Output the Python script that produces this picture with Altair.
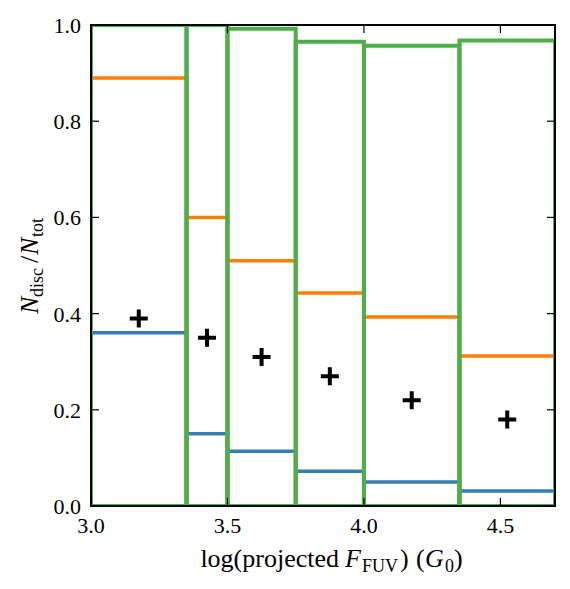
import altair as alt
import pandas as pd

# Histogram bins in log(projected F_FUV)
bin_edges = [3.0, 3.35, 3.5, 3.75, 4.0, 4.35, 4.7]
# Fraction of discs per bin for the three populations
frac_blue = [0.36, 0.15, 0.114, 0.072, 0.05, 0.031]
frac_orange = [0.89, 0.60, 0.51, 0.443, 0.393, 0.312]
frac_green = [1.0, 1.0, 0.992, 0.965, 0.957, 0.968]
# Mean fraction at each bin centre
cross_x = [3.175, 3.425, 3.625, 3.875, 4.175, 4.525]
cross_y = [0.39, 0.35, 0.31, 0.27, 0.22, 0.18]

x_ticks = [3.0, 3.5, 4.0, 4.5]
y_ticks = [0.0, 0.2, 0.4, 0.6, 0.8, 1.0]

W, H = 464, 481
FONT = "Liberation Serif"
BLUE, ORANGE, GREEN = "#377eb8", "#ff7f00", "#4daf4a"

xs = alt.Scale(domain=[3.0, 4.7], nice=False, zero=False)
ys = alt.Scale(domain=[0.0, 1.0], nice=False)


def X(field):
    return alt.X(field, scale=xs, axis=None)


def Y(field):
    return alt.Y(field, scale=ys, axis=None)


def bars(vals, color, width):
    """Unfilled histogram bars: one outlined rectangle per bin."""
    df = pd.DataFrame({"lo": bin_edges[:-1], "hi": bin_edges[1:], "v": vals,
                       "zero": [0.0] * len(vals)})
    return alt.Chart(df).mark_rect(
        filled=False, stroke=color, strokeWidth=width, clip=True
    ).encode(x=X("lo:Q"), x2="hi:Q", y=Y("zero:Q"), y2="v:Q")


blue = bars(frac_blue, BLUE, 3.5)
orange = bars(frac_orange, ORANGE, 3.5)
green = bars(frac_green, GREEN, 4)

crosses = alt.Chart(pd.DataFrame({"x": cross_x, "y": cross_y})).mark_point(
    shape="M-1,0L1,0M0,-1L0,1", size=324, filled=False, color="black",
    strokeWidth=4, opacity=1
).encode(x=X("x:Q"), y=Y("y:Q"))

# Inward ticks on all four sides, plus their labels
xt = pd.DataFrame({"t": x_ticks})
yt = pd.DataFrame({"t": y_ticks})
tick_style = dict(color="black", strokeWidth=1.2)
ticks = [
    alt.Chart(xt).mark_rule(**tick_style).encode(
        x=X("t:Q"), y=alt.value(H), y2=alt.value(H - 8)),
    alt.Chart(xt).mark_rule(**tick_style).encode(
        x=X("t:Q"), y=alt.value(0), y2=alt.value(8)),
    alt.Chart(yt).mark_rule(**tick_style).encode(
        y=Y("t:Q"), x=alt.value(0), x2=alt.value(8)),
    alt.Chart(yt).mark_rule(**tick_style).encode(
        y=Y("t:Q"), x=alt.value(W - 8), x2=alt.value(W)),
]
tick_labels = [
    alt.Chart(xt).mark_text(font=FONT, fontSize=22, color="black", align="center",
                            baseline="alphabetic").encode(
        x=X("t:Q"), y=alt.value(H + 27), text=alt.Text("t:Q", format=".1f")),
    alt.Chart(yt).mark_text(font=FONT, fontSize=22, color="black", align="right",
                            baseline="middle", dy=1).encode(
        y=Y("t:Q"), x=alt.value(-10), text=alt.Text("t:Q", format=".1f")),
]

one = pd.DataFrame({"k": [0]})

frame = alt.Chart(one).mark_rect(
    filled=False, stroke="black", strokeWidth=2
).encode(x=alt.value(0), x2=alt.value(W), y=alt.value(0), y2=alt.value(H))


def piece(text, x, y, size=26, italic=False, angle=0, align="left"):
    return alt.Chart(one).mark_text(
        text=text, font=FONT, fontSize=size, fontStyle="italic" if italic else "normal",
        align=align, baseline="alphabetic", angle=angle, color="black"
    ).encode(x=alt.value(x), y=alt.value(y))


OX, OY = 91, 25  # plot origin on the page
SUB = 18
# x-axis title: log(projected F_FUV) (G_0)
xb = 567 - OY
x_title = [
    piece("log(projected", 339 - OX, xb, align="right"),
    piece("F", 345 - OX, xb, italic=True),
    piece("FUV", 362 - OX, xb + 5, size=SUB),
    piece(")", 400 - OX, xb),
    piece("(", 416 - OX, xb),
    piece("G", 425 - OX, xb, italic=True),
    piece("0", 445 - OX, xb + 5, size=SUB),
    piece(")", 454 - OX, xb),
]
# y-axis title: N_disc / N_tot (rotated)
yb = 38 - OX
y_title = [
    piece("N", yb, 314 - OY, italic=True, angle=270),
    piece("disc", yb + 5, 297 - OY, size=SUB, angle=270),
    piece("/", yb, 263 - OY, angle=270),
    piece("N", yb, 255 - OY, italic=True, angle=270),
    piece("tot", yb + 5, 237 - OY, size=SUB, angle=270),
]

chart = alt.layer(
    blue, orange, green, crosses, *ticks, frame, *tick_labels, *x_title, *y_title
).properties(
    width=W, height=H,
    autosize=alt.AutoSizeParams(type="none"),
    padding={"left": OX, "top": OY, "right": 570 - OX - W, "bottom": 589 - OY - H},
).configure_view(stroke=None).configure(background="white")

chart.save("out.html", embed_options={"renderer": "svg", "actions": False})
